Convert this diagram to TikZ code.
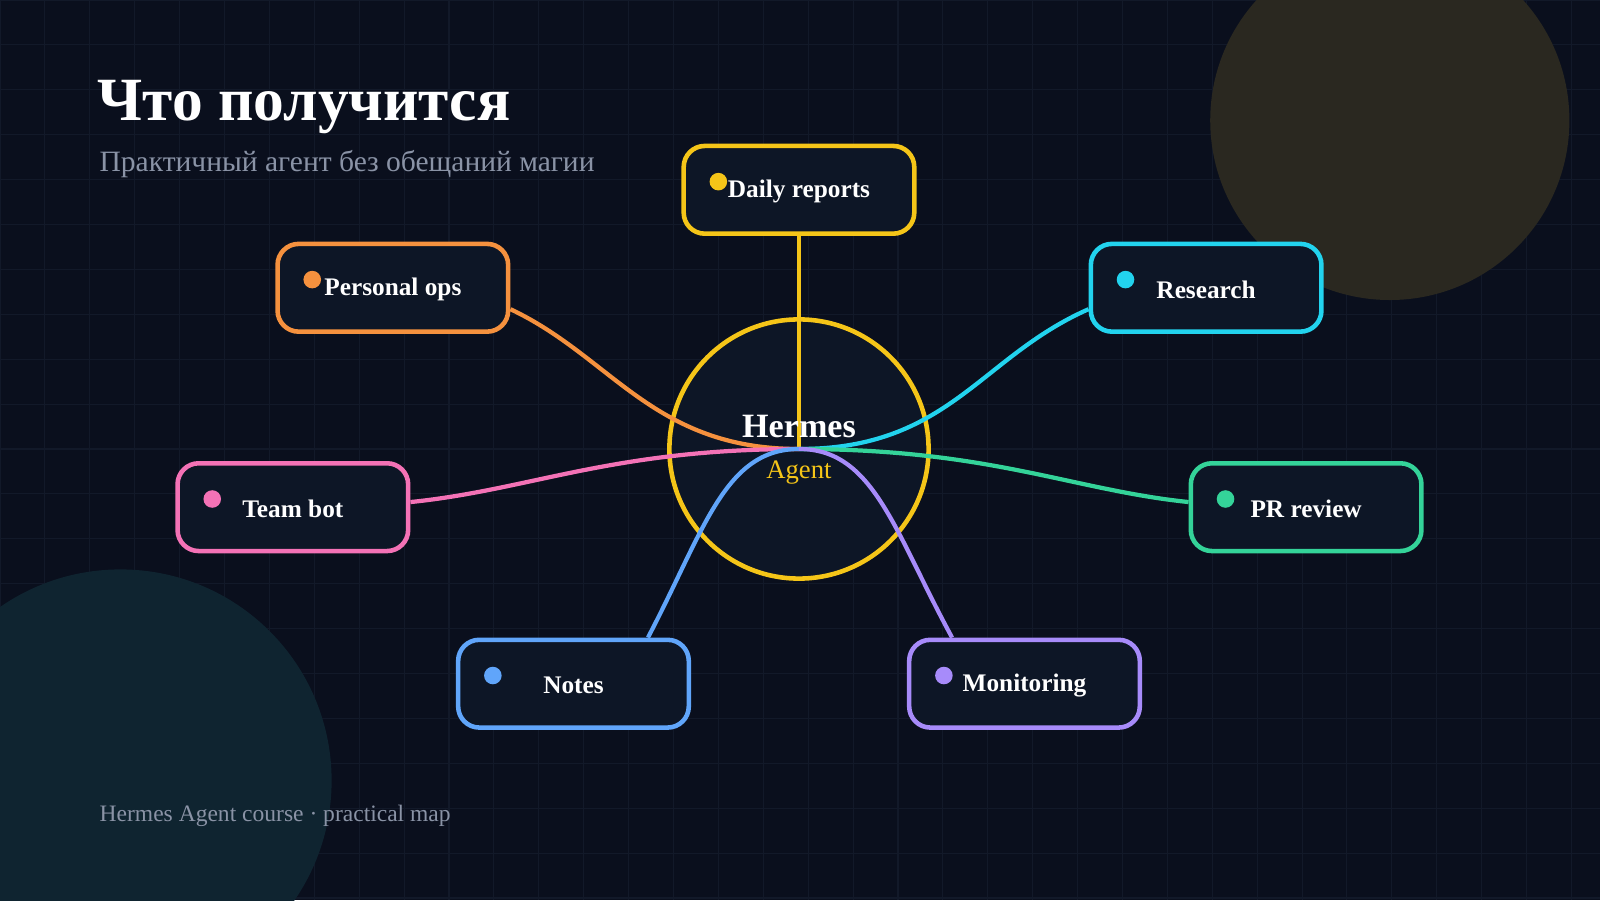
\documentclass[tikz,border=0pt]{standalone}
\usepackage{fontspec}
\setmainfont{Liberation Serif}
\begin{document}
\begin{tikzpicture}[x=0.010204cm,y=-0.010204cm,
  box/.style={draw=#1,line width=1.3pt,rounded corners=6pt,fill=boxfill,minimum width=226*0.010204cm,minimum height=86*0.010204cm},
  lbl/.style={text=white,font=\bfseries\fontsize{7.2}{8}\selectfont},
  dotc/.style={circle,fill=#1,inner sep=0pt,minimum size=5pt},
  conn/.style={draw=#1,line width=1.2pt}]
\definecolor{bg}{HTML}{0A0F1D}
\definecolor{boxfill}{HTML}{0D1626}
\definecolor{cy}{HTML}{F5C518}
\definecolor{co}{HTML}{F5913E}
\definecolor{cc}{HTML}{22D3EE}
\definecolor{cp}{HTML}{F472B6}
\definecolor{cg}{HTML}{34D399}
\definecolor{cb}{HTML}{60A5FA}
\definecolor{cv}{HTML}{A78BFA}
\definecolor{gridc}{HTML}{121929}
\definecolor{olive}{HTML}{2A2820}
\definecolor{teal}{HTML}{0F2430}
\definecolor{grayt}{HTML}{8A93A6}
\fill[bg] (0,0) rectangle (1568,882);
\useasboundingbox (0,0) rectangle (1568,882);
\foreach \i in {0,44,...,1568} \draw[gridc,line width=0.3pt] (\i,0) -- (\i,882);
\foreach \j in {0,44,...,882} \draw[gridc,line width=0.3pt] (0,\j) -- (1568,\j);
\fill[olive] (1362,118) circle (176);
\fill[teal] (118,765) circle (207);
\node[anchor=base west,text=white,font=\bfseries\fontsize{17.5}{20}\selectfont,inner sep=0] (title) at (95,118) {Что получится};
\node[anchor=base west,text=grayt,font=\fontsize{8.4}{9}\selectfont,inner sep=0] (sub) at (97,168) {Практичный агент без обещаний магии};
\node[anchor=base west,text=grayt,font=\fontsize{6.7}{8}\selectfont,inner sep=0] (foot) at (97,805) {Hermes Agent course · practical map};
\node[circle,draw=cy,line width=1.3pt,fill=boxfill,minimum size=254*0.010204cm] (hub) at (783,440) {};
\coordinate (h) at (783,440);
\node[box=cy] (dr) at (783,186) {};
\node[box=co] (po) at (385,282) {};
\node[box=cc] (rs) at (1182,282) {};
\node[box=cp] (tb) at (287,497) {};
\node[box=cg] (pr) at (1280,497) {};
\node[box=cb] (nt) at (562,670) {};
\node[box=cv] (mo) at (1004,670) {};
\draw[conn=cy] (dr.south) -- (h);
\draw[conn=co] ([yshift=-21*0.010204cm]po.east) .. controls (600,350) and (640,440) .. (h);
\draw[conn=cc] ([yshift=-21*0.010204cm]rs.west) .. controls (960,350) and (930,440) .. (h);
\draw[conn=cp] ([yshift=5*0.010204cm]tb.east) .. controls (520,480) and (600,440) .. (h);
\draw[conn=cg] ([yshift=5*0.010204cm]pr.west) .. controls (1050,480) and (970,440) .. (h);
\draw[conn=cb] ([xshift=73*0.010204cm]nt.north) .. controls (690,520) and (710,440) .. (h);
\draw[conn=cv] ([xshift=-71*0.010204cm]mo.north) .. controls (876,520) and (856,440) .. (h);
\node[text=white,font=\bfseries\fontsize{9.7}{11}\selectfont] (hl) at (783,418) {Hermes};
\node[text=cy,font=\fontsize{7.6}{9}\selectfont] (al) at (783,463) {Agent};
\node[dotc=cy] (d1) at (704,178) {}; \node[lbl] (t1) at (783,188) {Daily reports};
\node[dotc=co] (d2) at (306,274) {}; \node[lbl] (t2) at (385,284) {Personal ops};
\node[dotc=cc] (d3) at (1103,274) {}; \node[lbl] (t3) at (1182,284) {Research};
\node[dotc=cp] (d4) at (208,489) {}; \node[lbl] (t4) at (287,499) {Team bot};
\node[dotc=cg] (d5) at (1201,489) {}; \node[lbl] (t5) at (1280,499) {PR review};
\node[dotc=cb] (d6) at (483,662) {}; \node[lbl] (t6) at (562,672) {Notes};
\node[dotc=cv] (d7) at (925,662) {}; \node[lbl] (t7) at (1004,672) {Monitoring};
\end{tikzpicture}
\end{document}
